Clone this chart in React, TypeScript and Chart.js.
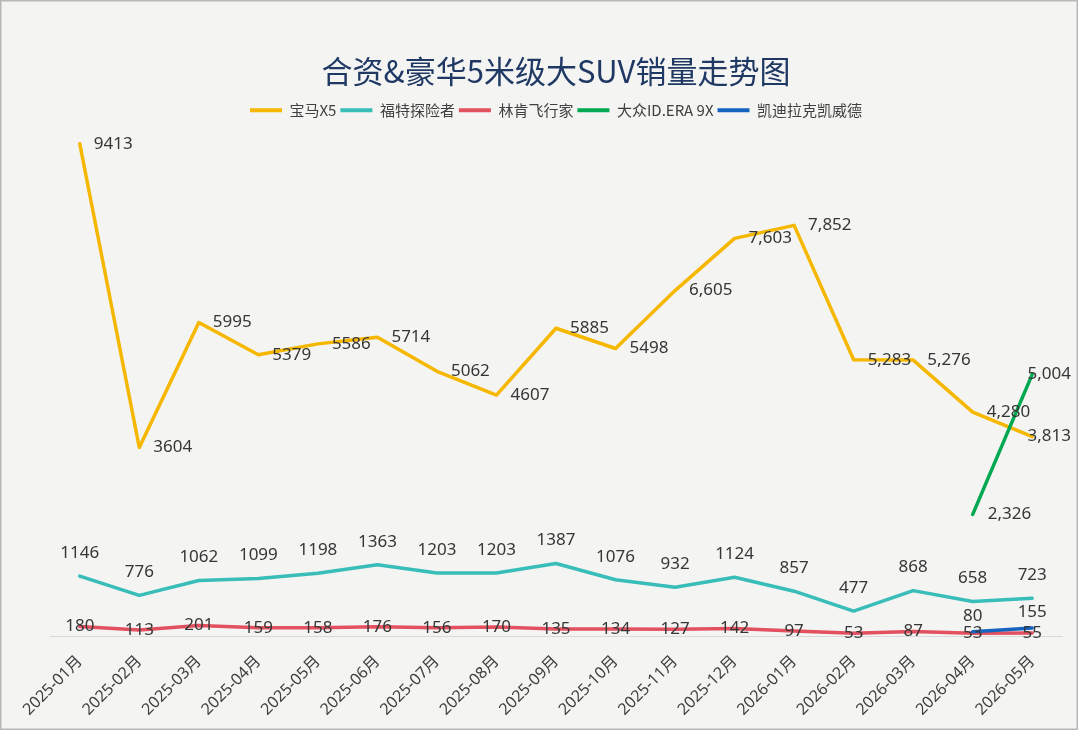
import React, { useEffect, useRef } from "react";
import { Chart, registerables } from "chart.js";

Chart.register(...registerables);

const TITLE = "合资&豪华5米级大SUV销量走势图";

const MONTHS = [
  "2025-01月", "2025-02月", "2025-03月", "2025-04月", "2025-05月", "2025-06月",
  "2025-07月", "2025-08月", "2025-09月", "2025-10月", "2025-11月", "2025-12月",
  "2026-01月", "2026-02月", "2026-03月", "2026-04月", "2026-05月",
];

const SERIES_NAMES = ["宝马X5", "福特探险者", "林肯飞行家", "大众ID.ERA 9X", "凯迪拉克凯威德"];

const BMW_X5 = [9413, 3604, 5995, 5379, 5586, 5714, 5062, 4607, 5885, 5498, 6605, 7603, 7852, 5283, 5276, 4280, 3813];
const BMW_X5_LABELS = ["9413", "3604", "5995", "5379", "5586", "5714", "5062", "4607", "5885", "5498", "6,605", "7,603", "7,852", "5,283", "5,276", "4,280", "3,813"];

const FORD_EXPLORER = [1146, 776, 1062, 1099, 1198, 1363, 1203, 1203, 1387, 1076, 932, 1124, 857, 477, 868, 658, 723];

const LINCOLN_AVIATOR = [180, 113, 201, 159, 158, 176, 156, 170, 135, 134, 127, 142, 97, 53, 87, 53, 55];

const VW_ID_ERA_9X = [null, null, null, null, null, null, null, null, null, null, null, null, null, null, null, 2326, 5004];
const VW_ID_ERA_9X_LABELS = ["", "", "", "", "", "", "", "", "", "", "", "", "", "", "", "2,326", "5,004"];

const CADILLAC = [null, null, null, null, null, null, null, null, null, null, null, null, null, null, null, 80, 155];

const Y_MAX = 9720;

const COLORS = ["#F5B700", "#38BDB8", "#E3505F", "#00A850", "#1565C0"];

const LABEL_TEXTS: (string[] | null)[] = [BMW_X5_LABELS, null, null, VW_ID_ERA_9X_LABELS, null];
const LABEL_POS = [
  { pos: "right", gap: 14 },
  { pos: "above", gap: 23 },
  { pos: "center", gap: 0 },
  { pos: "right", gap: 15 },
  { pos: "above", gap: 16 },
];

const bgPlugin = {
  id: "bgBorder",
  beforeDraw(chart: any) {
    const { ctx, width, height } = chart;
    ctx.save();
    ctx.fillStyle = "#ffffff";
    ctx.fillRect(0, 0, width, height);
    ctx.fillStyle = "#F4F4F2";
    ctx.fillRect(0, 0, width - 2, height - 1);
    ctx.strokeStyle = "#b8b8b8";
    ctx.lineWidth = 1.5;
    ctx.strokeRect(0.75, 0.75, width - 3.5, height - 2.5);
    ctx.restore();
  },
};

const labelPlugin = {
  id: "pointLabels",
  afterDatasetsDraw(chart: any) {
    const ctx = chart.ctx;
    ctx.save();
    ctx.font = "17px 'Noto Sans', 'Noto Sans CJK SC', sans-serif";
    ctx.fillStyle = "#363636";
    ctx.textAlign = "left";
    ctx.textBaseline = "middle";
    chart.data.datasets.forEach((ds: any, di: number) => {
      const meta = chart.getDatasetMeta(di);
      const style = LABEL_POS[di];
      const texts = LABEL_TEXTS[di];
      meta.data.forEach((pt: any, i: number) => {
        const v = ds.data[i];
        if (v === null || v === undefined) return;
        const text = texts ? texts[i] : String(v);
        const w = ctx.measureText(text).width;
        let left: number;
        let y = pt.y;
        if (style.pos === "right") {
          left = pt.x + style.gap;
        } else {
          left = pt.x - w / 2;
        }
        if (style.pos === "above") y -= style.gap;
        left = Math.min(left, chart.width - 9 - w);
        ctx.fillText(text, left, y);
      });
    });
    ctx.restore();
  },
};

export default function App() {
  const ref = useRef<HTMLCanvasElement | null>(null);

  useEffect(() => {
    if (!ref.current) return;
    const seriesData = [BMW_X5, FORD_EXPLORER, LINCOLN_AVIATOR, VW_ID_ERA_9X, CADILLAC];
    const orders = [5, 4, 3, 2, 1];
    const chart = new Chart(ref.current, {
      type: "line",
      data: {
        labels: MONTHS,
        datasets: seriesData.map((d, i) => ({
          label: SERIES_NAMES[i],
          data: d as any,
          borderColor: COLORS[i],
          backgroundColor: COLORS[i],
          borderWidth: 3.5,
          pointRadius: 0,
          pointHoverRadius: 0,
          tension: 0,
          fill: false,
          spanGaps: false,
          borderCapStyle: "round",
          borderJoinStyle: "round",
          order: orders[i],
        })),
      },
      options: {
        responsive: false,
        animation: false,
        events: [],
        layout: { padding: { top: 0, left: 50, right: 18, bottom: 0 } },
        plugins: {
          title: {
            display: true,
            text: TITLE,
            color: "#1F3864",
            font: { size: 31, family: "'Noto Sans CJK SC', sans-serif", weight: "normal" },
            padding: { top: 53, bottom: 8.5 },
          },
          legend: {
            display: true,
            position: "top",
            labels: {
              boxWidth: 32,
              boxHeight: 4,
              padding: 4,
              color: "#404040",
              font: { size: 15, family: "'Noto Sans CJK SC', sans-serif" },
              sort: (a: any, b: any) => a.datasetIndex - b.datasetIndex,
              generateLabels: (c: any) =>
                Chart.defaults.plugins.legend.labels.generateLabels(c).map((it: any) => ({ ...it, lineWidth: 0 })),
            },
          },
          tooltip: { enabled: false },
        },
        scales: {
          x: {
            type: "category",
            offset: true,
            grid: { display: false, drawTicks: false },
            border: { display: true, color: "#d9d9d9", width: 1 },
            ticks: {
              autoSkip: false,
              maxRotation: 45,
              minRotation: 45,
              padding: 16,
              color: "#404040",
              font: { size: 16, family: "'Noto Sans', 'Noto Sans CJK SC', sans-serif" },
            },
            afterFit: (s: any) => {
              s.height = 95;
            },
          },
          y: { display: false, min: 0, max: Y_MAX },
        },
      } as any,
      plugins: [bgPlugin, labelPlugin],
    });
    return () => chart.destroy();
  }, []);

  return (
    <div style={{ position: "absolute", left: 0, top: 0, width: 1080, height: 731 }}>
      <canvas ref={ref} width={1080} height={731} style={{ display: "block", width: 1080, height: 731 }} />
    </div>
  );
}
